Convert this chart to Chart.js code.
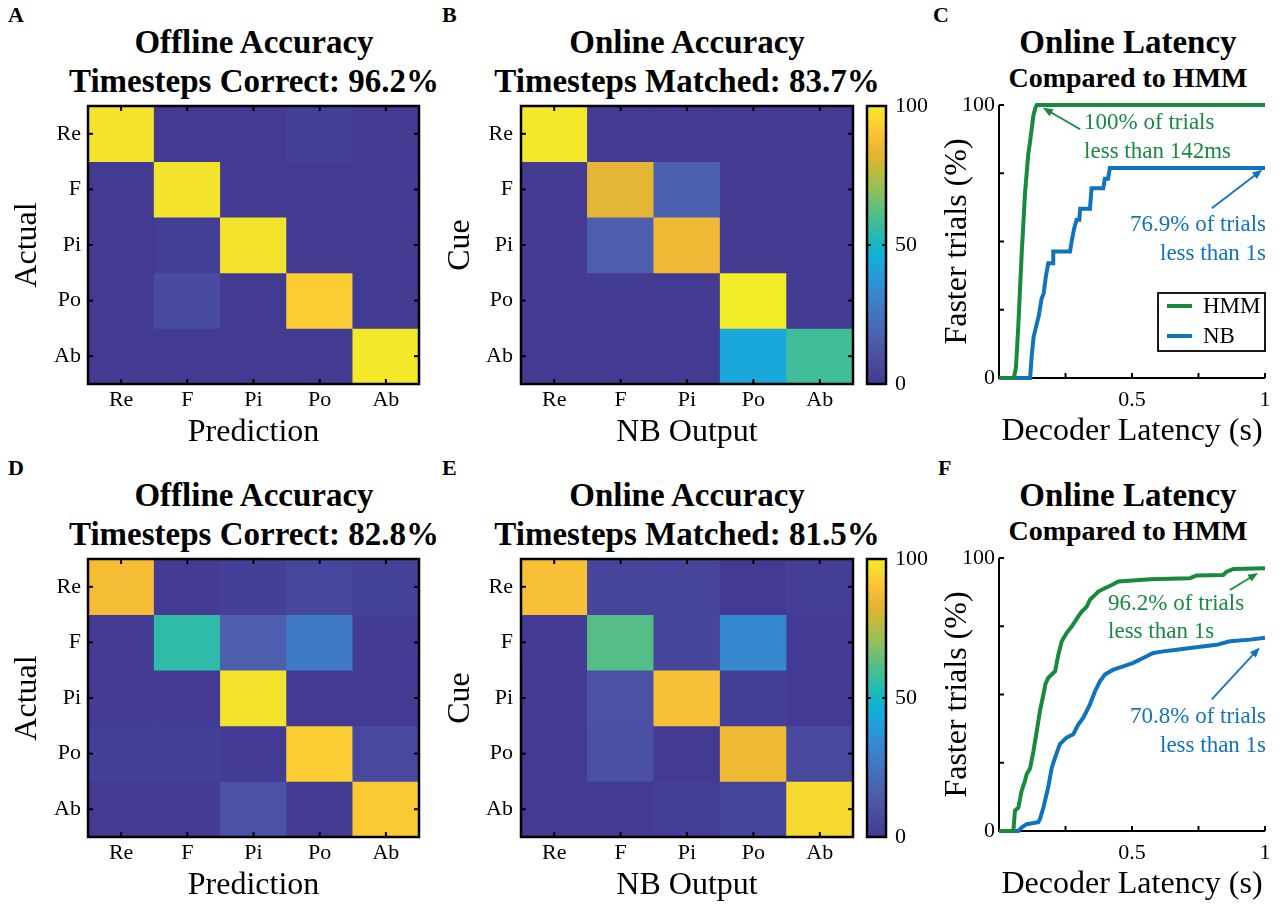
<!DOCTYPE html>
<html lang="en">
<head>
<meta charset="UTF-8" />
<title>Decoder Accuracy and Latency</title>
<script src="https://cdn.jsdelivr.net/npm/chart.js@4.4.0/dist/chart.umd.min.js"></script>
<style>
  body {
    margin: 0;
    background: #fff;
    width: 1285px;
    height: 907px;
    overflow: hidden;
    position: relative;
    font-family: "Liberation Serif", "Times New Roman", serif;
  }
  canvas { position: absolute; }
  .txt { position: absolute; white-space: nowrap; line-height: 1; color: #000; }
  .letter { font-size: 22px; font-weight: bold; }
  .title { font-size: 33px; font-weight: bold; width: 460px; text-align: center; }
  .sub { font-size: 28px; }
</style>
</head>
<body>
  <div class="txt letter" style="left:8px;top:4px">A</div>
  <div class="txt letter" style="left:442px;top:4px">B</div>
  <div class="txt letter" style="left:933px;top:4px">C</div>
  <div class="txt letter" style="left:8px;top:457px">D</div>
  <div class="txt letter" style="left:442px;top:457px">E</div>
  <div class="txt letter" style="left:938px;top:457px">F</div>

  <div class="txt title" style="left:24px;top:26px">Offline Accuracy</div>
  <div class="txt title" style="left:24px;top:65px">Timesteps Correct: 96.2%</div>
  <div class="txt title" style="left:457px;top:26px">Online Accuracy</div>
  <div class="txt title" style="left:457px;top:65px">Timesteps Matched: 83.7%</div>
  <div class="txt title" style="left:898px;top:26px;width:460px">Online Latency</div>
  <div class="txt title sub" style="left:898px;top:64px;width:460px">Compared to HMM</div>

  <div class="txt title" style="left:24px;top:479px">Offline Accuracy</div>
  <div class="txt title" style="left:24px;top:518px">Timesteps Correct: 82.8%</div>
  <div class="txt title" style="left:457px;top:479px">Online Accuracy</div>
  <div class="txt title" style="left:457px;top:518px">Timesteps Matched: 81.5%</div>
  <div class="txt title" style="left:898px;top:479px;width:460px">Online Latency</div>
  <div class="txt title sub" style="left:898px;top:517px;width:460px">Compared to HMM</div>

  <canvas id="matA" width="450" height="452" style="left:0;top:0"></canvas>
  <canvas id="matB" width="460" height="452" style="left:440px;top:0"></canvas>
  <canvas id="barB" width="70" height="452" style="left:860px;top:0"></canvas>
  <canvas id="latC" width="365" height="452" style="left:920px;top:0"></canvas>
  <canvas id="matD" width="450" height="452" style="left:0;top:453px"></canvas>
  <canvas id="matE" width="460" height="452" style="left:440px;top:453px"></canvas>
  <canvas id="barE" width="70" height="452" style="left:860px;top:453px"></canvas>
  <canvas id="latF" width="365" height="452" style="left:920px;top:453px"></canvas>

<script>
const classes = ['Re', 'F', 'Pi', 'Po', 'Ab'];

// rows = actual / cue, columns = prediction / NB output, in % of timesteps
const offlineTop = [
  [98, 0, 0, 3, 0],
  [0, 98, 1, 0, 1],
  [0, 2, 98, 0, 0],
  [0, 8, 0, 93, 0],
  [0, 0, 0, 0, 99]
];
const onlineTop = [
  [99, 0, 0, 0, 0],
  [0, 83, 17, 0, 0],
  [0, 16, 86, 0, 0],
  [0, 0, 0, 100, 0],
  [0, 0, 0, 43, 58]
];
const offlineBottom = [
  [88, 1, 3, 6, 4],
  [1, 55, 16, 27, 1],
  [1, 1, 98, 0, 0],
  [3, 3, 1, 93, 7],
  [0, 0, 11, 0, 92]
];
const onlineBottom = [
  [89, 5, 5, 0, 2],
  [1, 62, 5, 33, 1],
  [0, 11, 89, 3, 0],
  [0, 10, 0, 86, 7],
  [0, 0, 2, 5, 96]
];

// latency curves: [seconds, % of faster trials]
const latencyTopHMM = [
  [0, 0], [0.056, 0], [0.064, 4], [0.073, 20], [0.085, 45], [0.098, 68],
  [0.11, 82], [0.116, 86], [0.129, 96], [0.137, 99], [0.142, 100], [1, 100]
];
const latencyTopNB = [
  [0, 0], [0.117, 0], [0.123, 8], [0.13, 15], [0.14, 19], [0.15, 23], [0.16, 29],
  [0.168, 31], [0.176, 37], [0.185, 42], [0.204, 42], [0.204, 46.3], [0.267, 46.3],
  [0.273, 50], [0.283, 55], [0.292, 58], [0.302, 58], [0.305, 62], [0.342, 62],
  [0.348, 69.5], [0.392, 69.5], [0.398, 73], [0.41, 73], [0.417, 76.9], [1, 76.9]
];
const latencyBottomHMM = [
  [0, 0], [0.054, 0], [0.06, 7.4], [0.073, 8.6], [0.085, 14.7], [0.098, 18.4],
  [0.104, 20.8], [0.117, 23], [0.129, 29], [0.142, 36.6], [0.154, 44], [0.167, 50],
  [0.175, 54], [0.185, 56.1], [0.2, 57.5], [0.211, 58.5], [0.223, 64.6], [0.236, 69.5],
  [0.254, 72.5], [0.273, 74.9], [0.286, 76.8], [0.298, 78.6], [0.311, 80.4], [0.33, 82.2],
  [0.342, 84.7], [0.361, 86.5], [0.373, 87.7], [0.398, 88.9], [0.424, 90.1], [0.449, 91.4],
  [0.568, 92.2], [0.718, 92.6], [0.743, 93.6], [0.843, 93.8], [0.856, 95], [0.881, 96], [1, 96.2]
];
const latencyBottomNB = [
  [0, 0], [0.073, 0], [0.085, 1.3], [0.104, 2.5], [0.148, 3.2], [0.154, 4.4], [0.167, 8.6],
  [0.185, 16], [0.198, 23], [0.211, 27], [0.229, 31.8], [0.254, 34.2], [0.279, 35.4],
  [0.298, 39], [0.317, 41.5], [0.342, 46.4], [0.361, 51.2], [0.38, 54.9], [0.398, 57.3],
  [0.43, 59.1], [0.467, 60.3], [0.505, 61.6], [0.555, 64], [0.58, 65.2], [0.618, 65.8],
  [0.668, 66.4], [0.718, 67], [0.818, 68.2], [0.868, 69.5], [0.943, 70.1], [1, 70.8]
];

const GREEN = '#178a3e';
const BLUE = '#1073bd';

// parula-like colormap sampled from the colorbar
const cmap = [
  [0, '#433a92'], [5, '#46449b'], [10, '#4a50a3'], [15, '#4d5cab'], [20, '#4868b5'],
  [30, '#3d80ca'], [40, '#239ddb'], [46, '#10b1d8'], [51, '#17b7c0'], [56, '#35bca2'],
  [62, '#55be87'], [70, '#91c05a'], [78, '#c9b83a'], [84, '#eab434'], [90, '#fbc237'],
  [95, '#f9d631'], [100, '#f1ec28']
];

function hex(c) { return [1, 3, 5].map(i => parseInt(c.slice(i, i + 2), 16)); }

function colorFor(v) {
  for (let i = 1; i < cmap.length; i++) {
    if (v <= cmap[i][0]) {
      const [v0, c0] = cmap[i - 1], [v1, c1] = cmap[i];
      const t = (v - v0) / (v1 - v0);
      const a = hex(c0), b = hex(c1);
      return 'rgb(' + a.map((x, k) => Math.round(x + (b[k] - x) * t)).join(',') + ')';
    }
  }
  return cmap[cmap.length - 1][1];
}

Chart.defaults.font.family = '"Liberation Serif", "Times New Roman", serif';
Chart.defaults.font.size = 22;
Chart.defaults.color = '#000';

function drawTick(ctx, x1, y1, x2, y2) {
  ctx.beginPath(); ctx.moveTo(x1, y1); ctx.lineTo(x2, y2); ctx.stroke();
}

// boxed axes with inward ticks on all sides
const matrixFrame = {
  id: 'matrixFrame',
  afterDatasetsDraw(chart) {
    const {ctx, chartArea: a, scales} = chart;
    ctx.save();
    ctx.strokeStyle = '#000';
    ctx.lineWidth = 2.5;
    ctx.strokeRect(a.left, a.top, a.right - a.left, a.bottom - a.top);
    ctx.lineWidth = 2;
    scales.x.ticks.forEach((t, i) => {
      const px = scales.x.getPixelForTick(i);
      drawTick(ctx, px, a.bottom, px, a.bottom - 5);
      drawTick(ctx, px, a.top, px, a.top + 5);
    });
    scales.y.ticks.forEach(t => {
      const py = scales.y.getPixelForValue(t.value);
      drawTick(ctx, a.left, py, a.left + 5, py);
      drawTick(ctx, a.right, py, a.right - 5, py);
    });
    ctx.restore();
  }
};

function matrixChart(id, rows, yTitle, xTitle, yWidth, rightPad, titlePad, tickPad) {
  const datasets = rows.map((row, r) => ({
    data: row.map(() => [r - 0.5, r + 0.5]),
    backgroundColor: row.map(v => colorFor(v)),
    borderWidth: 0,
    grouped: false,
    barPercentage: 1,
    categoryPercentage: 1
  }));
  return new Chart(document.getElementById(id), {
    type: 'bar',
    data: { labels: classes, datasets },
    options: {
      responsive: false,
      animation: false,
      layout: { padding: { left: 0, top: 106, right: rightPad, bottom: 0 } },
      plugins: { legend: { display: false }, tooltip: { enabled: false } },
      scales: {
        x: {
          grid: { display: false, drawTicks: false },
          border: { display: false },
          ticks: { padding: 3, font: { size: 22 } },
          title: { display: true, text: xTitle, font: { size: 32 }, padding: { top: 0, bottom: 0 } },
          afterFit(s) { s.height = 68; }
        },
        y: {
          min: -0.5, max: 4.5, reverse: true,
          grid: { display: false, drawTicks: false },
          border: { display: false },
          afterBuildTicks(s) { s.ticks = classes.map((c, i) => ({ value: i })); },
          ticks: { padding: tickPad, font: { size: 22 }, callback: v => classes[v] },
          title: { display: true, text: yTitle, font: { size: 32 }, padding: { top: titlePad, bottom: 0 } },
          afterFit(s) { s.width = yWidth; }
        }
      }
    },
    plugins: [matrixFrame]
  });
}

const colorbarFrame = {
  id: 'colorbarFrame',
  afterDatasetsDraw(chart) {
    const {ctx, chartArea: a, scales} = chart;
    ctx.save();
    ctx.strokeStyle = '#000';
    ctx.lineWidth = 2.5;
    ctx.strokeRect(a.left, a.top, a.right - a.left, a.bottom - a.top);
    ctx.lineWidth = 2;
    scales.y.ticks.forEach(t => {
      const py = scales.y.getPixelForValue(t.value);
      drawTick(ctx, a.left, py, a.left + 4, py);
      drawTick(ctx, a.right, py, a.right - 4, py);
    });
    ctx.restore();
  }
};

function colorbar(id) {
  return new Chart(document.getElementById(id), {
    type: 'bar',
    data: {
      labels: [''],
      datasets: [{
        data: [[0, 100]],
        barPercentage: 1,
        categoryPercentage: 1,
        borderWidth: 0,
        backgroundColor(c) {
          const a = c.chart.chartArea;
          if (!a || !isFinite(a.top) || !isFinite(a.bottom)) return cmap[0][1];
          const g = c.chart.ctx.createLinearGradient(0, a.bottom, 0, a.top);
          cmap.forEach(([v, col]) => g.addColorStop(v / 100, col));
          return g;
        }
      }]
    },
    options: {
      responsive: false,
      animation: false,
      layout: { padding: { left: 7, top: 106, right: 0, bottom: 68 } },
      plugins: { legend: { display: false }, tooltip: { enabled: false } },
      scales: {
        x: { display: false },
        y: {
          position: 'right',
          min: 0, max: 100,
          grid: { display: false, drawTicks: false },
          border: { display: false },
          ticks: { stepSize: 50, padding: 9, font: { size: 22 } },
          afterFit(s) { s.width = 44; }
        }
      }
    },
    plugins: [colorbarFrame]
  });
}

// left and bottom axes with inward ticks
const latencyAxes = {
  id: 'latencyAxes',
  beforeDatasetsDraw(chart) {
    const {ctx, chartArea: a, scales} = chart;
    ctx.save();
    ctx.strokeStyle = '#000';
    ctx.lineWidth = 2;
    ctx.beginPath();
    ctx.moveTo(a.left, a.top);
    ctx.lineTo(a.left, a.bottom);
    ctx.lineTo(a.right, a.bottom);
    ctx.stroke();
    scales.x.ticks.forEach(t => {
      const px = scales.x.getPixelForValue(t.value);
      drawTick(ctx, px, a.bottom, px, a.bottom - 5);
    });
    scales.y.ticks.forEach(t => {
      const py = scales.y.getPixelForValue(t.value);
      drawTick(ctx, a.left, py, a.left + 5, py);
    });
    ctx.restore();
  }
};

// annotation texts and arrows, positioned in data space
const latencyNotes = {
  id: 'latencyNotes',
  afterDatasetsDraw(chart, args, opts) {
    const {ctx, scales: {x, y}} = chart;
    ctx.save();
    ctx.font = '23px "Liberation Serif", "Times New Roman", serif';
    ctx.textBaseline = 'middle';
    (opts.texts || []).forEach(t => {
      ctx.fillStyle = t.color;
      ctx.textAlign = t.align;
      t.lines.forEach((line, i) => {
        ctx.fillText(line, x.getPixelForValue(t.x), y.getPixelForValue(t.y) + i * 28.5);
      });
    });
    (opts.arrows || []).forEach(ar => {
      const x1 = x.getPixelForValue(ar.from[0]), y1 = y.getPixelForValue(ar.from[1]);
      const x2 = x.getPixelForValue(ar.to[0]), y2 = y.getPixelForValue(ar.to[1]);
      const ang = Math.atan2(y2 - y1, x2 - x1);
      ctx.strokeStyle = ar.color;
      ctx.fillStyle = ar.color;
      ctx.lineWidth = 1.8;
      ctx.beginPath();
      ctx.moveTo(x1, y1);
      ctx.lineTo(x2 - 6 * Math.cos(ang), y2 - 6 * Math.sin(ang));
      ctx.stroke();
      ctx.beginPath();
      ctx.moveTo(x2, y2);
      ctx.lineTo(x2 - 10 * Math.cos(ang) + 4 * Math.sin(ang), y2 - 10 * Math.sin(ang) - 4 * Math.cos(ang));
      ctx.lineTo(x2 - 10 * Math.cos(ang) - 4 * Math.sin(ang), y2 - 10 * Math.sin(ang) + 4 * Math.cos(ang));
      ctx.closePath();
      ctx.fill();
    });
    ctx.restore();
  }
};

// boxed legend in the lower right corner
const boxLegend = {
  id: 'boxLegend',
  afterDatasetsDraw(chart, args, opts) {
    if (!opts.show) return;
    const {ctx, chartArea: a} = chart;
    const w = 107, h = 58;
    const left = a.right - w, top = a.bottom - 27 - h;
    ctx.save();
    ctx.fillStyle = '#fff';
    ctx.fillRect(left, top, w, h);
    ctx.strokeStyle = '#000';
    ctx.lineWidth = 1.8;
    ctx.strokeRect(left, top, w, h);
    ctx.font = '23px "Liberation Serif", "Times New Roman", serif';
    ctx.textBaseline = 'middle';
    ctx.textAlign = 'left';
    chart.data.datasets.forEach((ds, i) => {
      const yy = top + 13 + i * 30;
      ctx.strokeStyle = ds.borderColor;
      ctx.lineWidth = 4;
      drawTick(ctx, left + 9, yy, left + 34, yy);
      ctx.fillStyle = '#000';
      ctx.fillText(ds.label, left + 45, yy + 1);
    });
    ctx.restore();
  }
};

function latencyChart(id, hmm, nb, notes, showLegend) {
  const pts = arr => arr.map(([x, y]) => ({ x, y }));
  const line = (label, data, color) => ({
    label, data: pts(data), borderColor: color, borderWidth: 4,
    pointRadius: 0, tension: 0, clip: false, fill: false
  });
  return new Chart(document.getElementById(id), {
    type: 'line',
    data: { datasets: [line('HMM', hmm, GREEN), line('NB', nb, BLUE)] },
    options: {
      responsive: false,
      animation: false,
      layout: { padding: { left: 0, top: 105, right: 20, bottom: 0 } },
      plugins: {
        legend: { display: false },
        tooltip: { enabled: false },
        latencyNotes: notes,
        boxLegend: { show: showLegend }
      },
      scales: {
        x: {
          type: 'linear', min: 0, max: 1,
          grid: { display: false, drawTicks: false },
          border: { display: false },
          ticks: { stepSize: 0.25, padding: 9, font: { size: 22 },
                   callback: v => (v === 0.5 || v === 1) ? String(v) : '' },
          title: { display: true, text: 'Decoder Latency (s)', font: { size: 32 }, padding: { top: 0, bottom: 1 } },
          afterFit(s) { s.height = 74; }
        },
        y: {
          min: 0, max: 100,
          grid: { display: false, drawTicks: false },
          border: { display: false },
          ticks: { stepSize: 25, padding: 4, font: { size: 22 },
                   callback: v => (v === 0 || v === 100) ? String(v) : '' },
          title: { display: true, text: 'Faster trials (%)', font: { size: 32 }, padding: { top: 18, bottom: 0 } },
          afterFit(s) { s.width = 79; }
        }
      }
    },
    plugins: [latencyAxes, latencyNotes, boxLegend]
  });
}

matrixChart('matA', offlineTop, 'Actual', 'Prediction', 88, 31, 8, 7);
matrixChart('matB', onlineTop, 'Cue', 'NB Output', 81, 47, 1, 8);
colorbar('barB');
latencyChart('latC', latencyTopHMM, latencyTopNB, {
  texts: [
    { lines: ['100% of trials', 'less than 142ms'], x: 0.32, y: 93.4, align: 'left', color: GREEN },
    { lines: ['76.9% of trials', 'less than 1s'], x: 1.004, y: 56, align: 'right', color: BLUE }
  ],
  arrows: [
    { from: [0.305, 91.1], to: [0.165, 99], color: GREEN },
    { from: [0.80, 62.2], to: [0.99, 76.3], color: BLUE }
  ]
}, true);

matrixChart('matD', offlineBottom, 'Actual', 'Prediction', 88, 31, 8, 7);
matrixChart('matE', onlineBottom, 'Cue', 'NB Output', 81, 47, 1, 8);
colorbar('barE');
latencyChart('latF', latencyBottomHMM, latencyBottomNB, {
  texts: [
    { lines: ['96.2% of trials', 'less than 1s'], x: 0.41, y: 83.2, align: 'left', color: GREEN },
    { lines: ['70.8% of trials', 'less than 1s'], x: 1.004, y: 41.6, align: 'right', color: BLUE }
  ],
  arrows: [
    { from: [0.868, 88.3], to: [0.974, 94.5], color: GREEN },
    { from: [0.80, 48.2], to: [0.98, 67.2], color: BLUE }
  ]
}, false);
</script>
</body>
</html>
